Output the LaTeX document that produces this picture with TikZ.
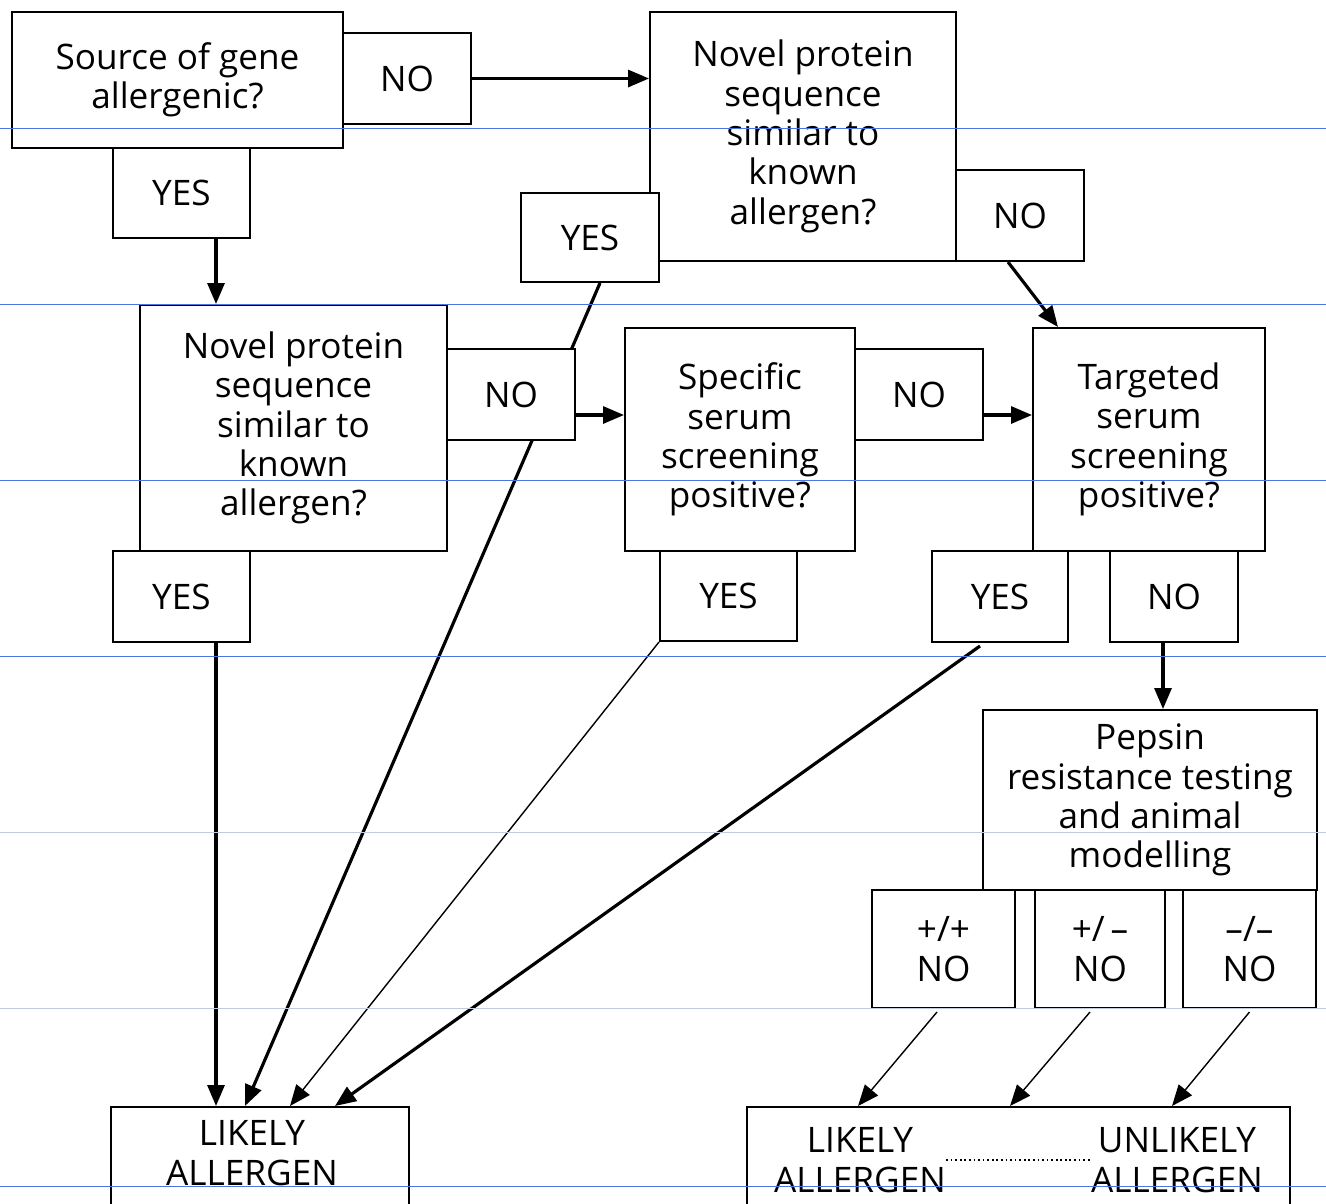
\documentclass[tikz,border=0pt]{standalone}
\usepackage{fontspec}
\setmainfont{Open Sans}
\usepackage{tikz}
\usetikzlibrary{arrows.meta, positioning, calc}
\definecolor{guideblue}{HTML}{4F73E0}
\definecolor{guidegray}{HTML}{C4C9DE}
\pgfdeclarelayer{background}
\pgfsetlayers{background,main}

\begin{document}
\begin{tikzpicture}[
    x=0.02cm, y=-0.02cm,
    box/.style={draw, line width=1.15pt, fill=white, align=center,
                inner sep=0pt, font=\fontsize{20}{22.4}\selectfont},
    answer/.style={box, minimum width=2.56cm, minimum height=1.82cm},
    boxtext/.style={align=center, inner sep=0pt,
                    font=\fontsize{20}{22.4}\selectfont},
    arrow/.style={-{Triangle[length=0.42cm, width=0.34cm]}, line width=1.8pt},
    thin arrow/.style={-{Triangle[length=0.42cm, width=0.34cm]},
                       line width=0.8pt},
    guide/.style={guideblue, line width=0.5pt}
  ]
    \useasboundingbox (0,0) rectangle (1326,1204);

    % First question
    \node[box, minimum width=6.62cm, minimum height=2.72cm] (src) at (177.5,80)
      {Source of gene\\allergenic?};
    \node[answer] (srcno) at (407,78.5) {NO};
    \node[answer, minimum width=2.74cm, minimum height=1.8cm] (srcyes)
      at (181.5,193) {YES};

    % Sequence check (source not allergenic)
    \node[box, minimum width=6.12cm, minimum height=4.98cm] (seqa) at (803,136.5)
      {Novel protein\\sequence\\similar to\\known\\allergen?};
    \node[answer, minimum width=2.76cm, minimum height=1.78cm] (seqayes)
      at (590,237.5) {YES};
    \node[answer] (seqano) at (1020,215.5) {NO};

    % Sequence check (source allergenic)
    \node[box, minimum width=6.14cm, minimum height=4.92cm] (seqb) at (293.5,428)
      {Novel protein\\sequence\\similar to\\known\\allergen?};
    \node[answer] (seqbno) at (511,394.5) {NO};
    \node[answer, minimum width=2.74cm] (seqbyes) at (181.5,596.5) {YES};

    % Serum screening
    \node[box, minimum width=4.6cm, minimum height=4.46cm] (spec) at (740,439.5)
      {Specific\\serum\\screening\\positive?};
    \node[answer] (specno) at (919,394.5) {NO};
    \node[answer, minimum width=2.74cm, minimum height=1.8cm] (specyes)
      at (728.5,596) {YES};

    \node[box, minimum width=4.64cm, minimum height=4.46cm] (targ) at (1149,439.5)
      {Targeted\\serum\\screening\\positive?};
    \node[answer, minimum width=2.72cm] (targyes) at (1000,596.5) {YES};
    \node[answer] (targno) at (1174,596.5) {NO};

    % Pepsin testing
    \node[box, minimum width=6.68cm, minimum height=3.6cm] (pepsin) at (1150,800)
      {Pepsin\\resistance testing\\and animal\\modelling};
    \node[box, minimum width=2.86cm, minimum height=2.36cm] (pp) at (943.5,949)
      {+/+\\NO};
    \node[box, minimum width=2.6cm, minimum height=2.36cm] (pm) at (1100,949)
      {+/\,–\\NO};
    \node[box, minimum width=2.66cm, minimum height=2.36cm] (mm) at (1249.5,949)
      {–/–\\NO};

    % Outcomes
    \node[box, minimum width=5.96cm, minimum height=2.66cm] (likelybox)
      at (260,1173.5) {};
    \node[boxtext] (likelytxt) at (252,1153) {LIKELY\\ALLERGEN};
    \node[box, minimum width=10.86cm, minimum height=2.66cm] (outcome)
      at (1018.5,1173.5) {};
    \node[boxtext] (likelyb) at (860,1160) {LIKELY\\ALLERGEN};
    \node[boxtext] (unlikely) at (1177,1160) {UNLIKELY\\ALLERGEN};
    \draw[line width=1.1pt, dash pattern=on 1pt off 1.6pt]
      (likelyb.east) -- (unlikely.west);

    % Connectors
    \begin{pgfonlayer}{background}
      \draw[arrow] (srcno.east) -- (srcno.east -| seqa.west);
      \coordinate (srcyesfoot) at ($(srcyes.south)+(34.5,0)$);
      \draw[arrow] (srcyesfoot) -- (srcyesfoot |- seqb.north);
      \draw[arrow] ($(seqano.south)+(-12,0)$) -- ($(targ.north)+(-91,0)$);
      \draw[arrow] ($(seqayes.south)+(10,0)$) -- ($(likelybox.north)+(-15,0)$);
      \coordinate (seqbout) at ($(seqbno.east)+(0,20.5)$);
      \draw[arrow] (seqbout) -- (seqbout -| spec.west);
      \coordinate (specout) at ($(specno.east)+(0,20.5)$);
      \draw[arrow] (specout) -- (specout -| targ.west);
      \coordinate (seqbyesfoot) at ($(seqbyes.south)+(34.5,0)$);
      \draw[arrow] (seqbyesfoot) -- (seqbyesfoot |- likelybox.north);
      \draw[thin arrow] (specyes.south west) -- ($(likelybox.north)+(30,0)$);
      \draw[arrow] ($(targyes.south)+(-20,3)$) -- ($(likelybox.north)+(75,0)$);
      \coordinate (targnofoot) at ($(targno.south)+(-11,0)$);
      \draw[arrow] (targnofoot) -- (targnofoot |- pepsin.north);
      \draw[thin arrow] ($(pp.south)+(-6.5,3)$) -- ($(outcome.north)+(-160.5,0)$);
      \draw[thin arrow] ($(pm.south)+(-10,3)$) -- ($(outcome.north)+(-8.5,0)$);
      \draw[thin arrow] ($(mm.south)+(0,3)$) -- ($(outcome.north)+(153.5,0)$);
    \end{pgfonlayer}

    % Ruled lines of the page
    \foreach \gy in {128,304,480,656,1186}
      \draw[guide] (0,\gy) -- (1326,\gy);
    \foreach \gy in {832,1008}
      \draw[guide, guidegray] (0,\gy) -- (1326,\gy);
  \end{tikzpicture}
\end{document}
